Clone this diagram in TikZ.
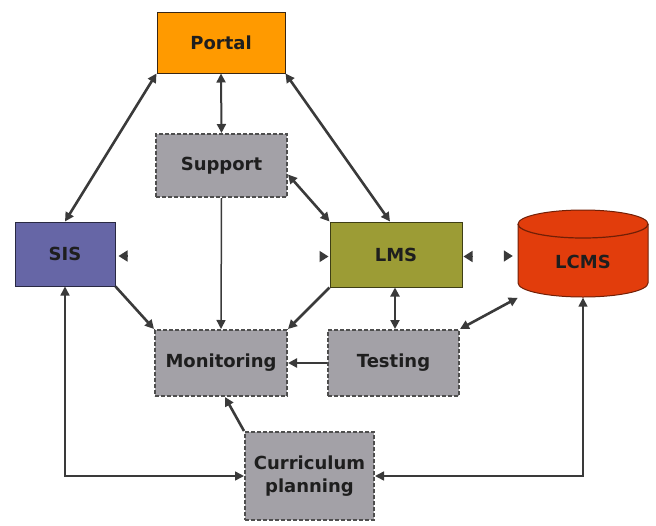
\documentclass[tikz,border=0pt]{standalone}
\usepackage{fontspec}
\setmainfont{DejaVu Sans}
\usetikzlibrary{arrows.meta}
\definecolor{portalc}{HTML}{FF9A00}
\definecolor{grayc}{HTML}{A3A1A7}
\definecolor{sisc}{HTML}{6666A6}
\definecolor{lmsc}{HTML}{9C9C35}
\definecolor{lcmsc}{HTML}{E23D0C}
\definecolor{linec}{HTML}{3A3A3A}
\definecolor{txtc}{HTML}{1E1E1E}
\begin{document}
\begin{tikzpicture}[x=1pt,y=-1pt,
  box/.style={rectangle, inner sep=0pt, align=center, text=txtc,
    font=\fontsize{18}{23}\selectfont\bfseries},
  solidbox/.style={box, draw=#1, line width=1pt},
  graybox/.style={box, fill=grayc, draw=linec!90, line width=2pt, dash pattern=on 4pt off 2pt},
  tip/.style={-{Triangle[length=9pt,width=9pt]}},
  dtip/.style={{Triangle[length=9pt,width=9pt]}-{Triangle[length=9pt,width=9pt]}},
  loosetip/.style={draw=linec, line width=1.5pt, -{Triangle[length=9pt,width=11pt]}},
  thickc/.style={draw=linec, line width=2.6pt},
  thinc/.style={draw=linec, line width=1.5pt}]
\useasboundingbox (0,0) rectangle (656,525);
% nodes
\node[solidbox=black!70!brown, fill=portalc, minimum width=128, minimum height=61] (Portal) at (221,42.5) {Portal};
\node[graybox, minimum width=131, minimum height=63] (Support) at (221.5,165.5) {Support};
\node[solidbox=black!60!sisc, fill=sisc, minimum width=100, minimum height=64] (SIS) at (65,254) {SIS};
\node[solidbox=black!60!lmsc, fill=lmsc, minimum width=132, minimum height=65] (LMS) at (396,254.5) {LMS};
\node[graybox, minimum width=132, minimum height=66] (Monitoring) at (221,363) {Monitoring};
\node[graybox, minimum width=131, minimum height=66] (Testing) at (393.5,363) {Testing};
\node[graybox, minimum width=129, minimum height=88] (Curriculum) at (309.5,476) {Curriculum\\planning};
% LCMS cylinder
\node[minimum width=130, minimum height=89, inner sep=0pt] (LCMS) at (583,253) {};
\fill[lcmsc] (518,224) -- (518,283) arc (180:0:65 and 14) -- (648,224) arc (0:-180:65 and 14) -- cycle;
\draw[black!50!lcmsc, line width=1pt] (518,224) -- (518,283) arc (180:0:65 and 14) -- (648,224) arc (0:-180:65 and 14) -- cycle;
\draw[black!50!lcmsc, line width=1.2pt] (518,224) arc (180:0:65 and 14);
\node[box] (LCMSlabel) at (583,262) {LCMS};
% connectors
\draw[thickc, dtip] (Portal.south west) -- (SIS.north);
\draw[thinc, line width=2pt, dtip] (Portal.south) -- (Support.north);
\draw[thickc, dtip] (Portal.south east) -- ([xshift=-6pt]LMS.north);
\draw[thickc, dtip] ([yshift=-9pt]Support.east) -- (LMS.north west);
\draw[thinc, tip] (Support.south) -- (Monitoring.north);
\draw[thickc, tip] (SIS.south east) -- (Monitoring.north west);
\draw[thickc, tip] (LMS.south west) -- (Monitoring.north east);
\draw[thinc, line width=2pt, dtip] ([xshift=-1pt]LMS.south) -- ([xshift=-1pt]LMS.south |- Testing.north);
\draw[thickc, dtip] (LCMS.south west) -- (Testing.north east);
\draw[thickc, tip] (Testing.west) -- (Monitoring.east);
\draw[thickc, tip] (Curriculum.north west) -- ([xshift=4pt]Monitoring.south);
\draw[thinc, dtip] (Curriculum.west) -| (SIS.south);
\draw[thinc, dtip] (Curriculum.east) -| (LCMS.south);
% loose arrow tips
\coordinate (a1) at ([xshift=12pt,yshift=-2pt]SIS.east);
\coordinate (a2) at ([xshift=-10pt,yshift=-2pt]LMS.west);
\coordinate (a3) at ([xshift=10pt,yshift=-2pt]LMS.east);
\coordinate (a4) at ([xshift=-14pt,yshift=-3pt]LCMS.west);
\draw[loosetip] (a1) -- ([xshift=3pt,yshift=-2pt]SIS.east);
\draw[loosetip] (a2) -- ([xshift=-1pt,yshift=-2pt]LMS.west);
\draw[loosetip] (a3) -- ([xshift=1pt,yshift=-2pt]LMS.east);
\draw[loosetip] (a4) -- ([xshift=-5pt,yshift=-3pt]LCMS.west);
\end{tikzpicture}
\end{document}
